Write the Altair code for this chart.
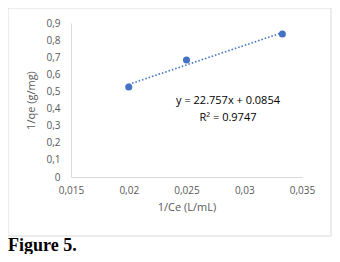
import altair as alt
import pandas as pd

# data
ce_inv = [0.02, 0.025, 0.0333]
qe_inv = [0.526, 0.684, 0.836]
trend_x = [0.02, 0.0333]
trend_y = [0.541, 0.844]
x_ticks = [0.015, 0.02, 0.025, 0.03, 0.035]
y_ticks = [0, 0.1, 0.2, 0.3, 0.4, 0.5, 0.6, 0.7, 0.8, 0.9]
eq_lines = ["y = 22.757x + 0.0854", "R² = 0.9747"]
caption = "Figure 5."

pts = pd.DataFrame({"x": ce_inv, "y": qe_inv})
trend = pd.DataFrame({"x": trend_x, "y": trend_y})
one = pd.DataFrame({"a": [0]})

BLUE = "#4472C4"
GREY = "#595959"
FONT = "Open Sans"
lab = "datum.value == 0 ? '0' : replace(format(datum.value, '~g'), '.', ',')"

xs = alt.X("x:Q", scale=alt.Scale(domain=[0.015, 0.035], nice=False, zero=False),
           axis=alt.Axis(values=x_ticks, labelExpr=lab, title="1/Ce (L/mL)",
                         ticks=False, grid=False, domainColor="#d9d9d9",
                         labelPadding=8, titlePadding=6, labelFlush=False,
                         labelOverlap=False))
ys = alt.Y("y:Q", scale=alt.Scale(domain=[0, 0.9], nice=False),
           axis=alt.Axis(values=y_ticks, labelExpr=lab, title="1/qe (g/mg)",
                         ticks=False, grid=False, domainColor="#d9d9d9",
                         labelPadding=11, titlePadding=9, labelOverlap=False,
                         labelFlush=False, tickCount=10))

line = alt.Chart(trend).mark_line(color=BLUE, strokeWidth=1.6, strokeDash=[1.5, 2]).encode(x=xs, y=ys)
points = alt.Chart(pts).mark_circle(color=BLUE, size=50, opacity=1).encode(x=xs, y=ys)


def eq_text(t, ypix):
    return alt.Chart(one).mark_text(font=FONT, fontSize=11, color="#000000", align="center",
                                    baseline="middle").encode(
        x=alt.value(157), y=alt.value(ypix), text=alt.value(t))


eq1 = eq_text(eq_lines[0], 78)
eq2 = eq_text(eq_lines[1], 95)
border = alt.Chart(one).mark_rect(fill=None, stroke="#d9d9d9", strokeWidth=1).encode(
    x=alt.value(-63), x2=alt.value(260), y=alt.value(-15), y2=alt.value(213))
cap = alt.Chart(one).mark_text(font="Liberation Serif", fontWeight="bold", fontSize=18,
                               align="left", baseline="alphabetic", color="#000").encode(
    x=alt.value(-63), y=alt.value(228), text=alt.value(caption))

chart = alt.layer(border, line, points, eq1, eq2, cap).properties(
    width=231, height=154,
    autosize=alt.AutoSizeParams(type="none"),
    padding={"left": 63, "top": 15, "right": 30, "bottom": 77},
).configure_view(stroke=None).configure_axis(
    labelFont=FONT, labelFontSize=10, labelColor=GREY,
    titleFont=FONT, titleFontSize=11, titleColor=GREY, titleFontWeight="normal",
)

chart.save("out.html", embed_options={"renderer": "svg", "actions": False})
